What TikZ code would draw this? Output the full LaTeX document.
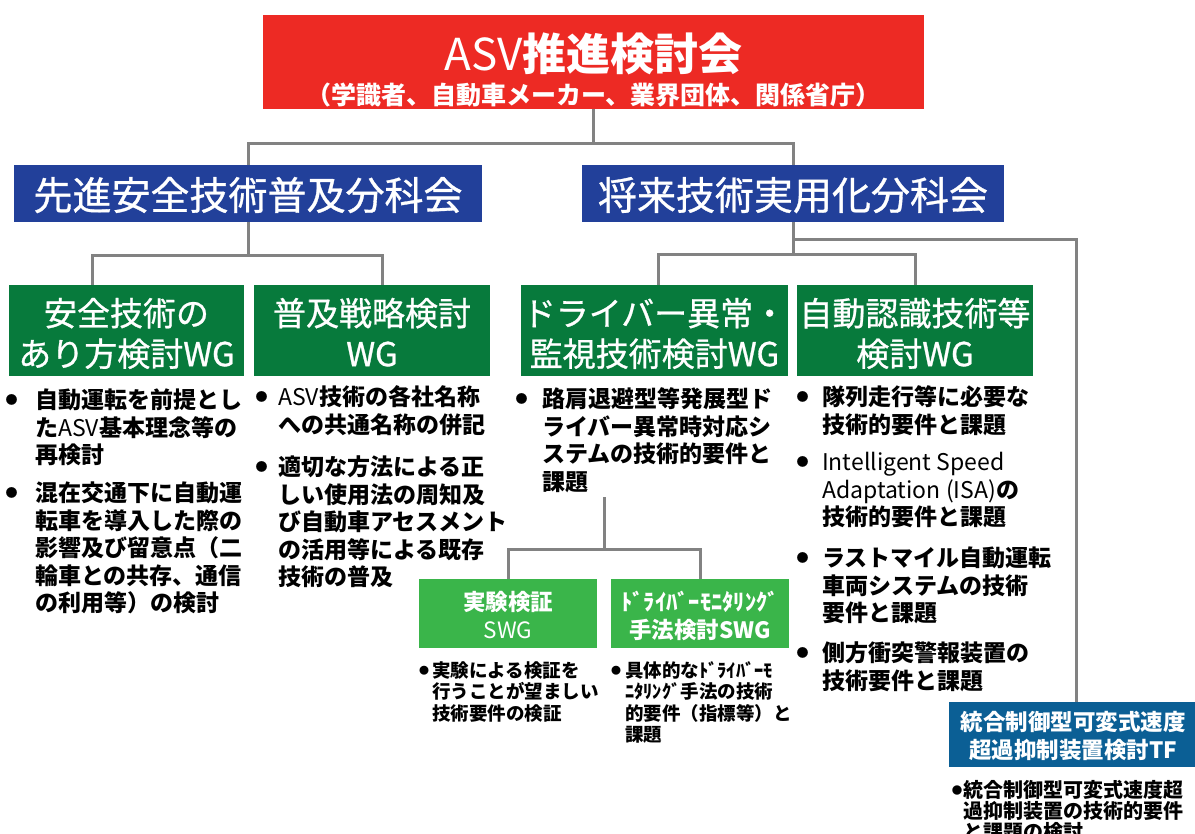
\documentclass[tikz,border=0pt]{standalone}
\usepackage{fontspec}
\setmainfont{Noto Sans CJK JP}
\newfontfamily\midjp[FakeBold=0.8]{Noto Sans CJK JP}
\definecolor{asvred}{HTML}{ED2A24}
\definecolor{secblue}{HTML}{22409A}
\definecolor{wggreen}{HTML}{077A3C}
\definecolor{swggreen}{HTML}{3AB54A}
\definecolor{tfblue}{HTML}{0B5F95}
\definecolor{conngray}{HTML}{828282}
\newcommand{\fsz}[2]{\fontsize{#1}{#2}\selectfont}
\newcommand{\tstrut}[1]{\rule{0pt}{#1pt}}
\newcommand{\bstrut}[1]{\rule[-#1pt]{0pt}{0pt}}
\newcommand{\bulmark}[3]{\makebox[#1pt][l]{\raisebox{#3pt}{\fsz{#2}{#2}●}}}
\newcommand{\ind}[1]{\hspace*{#1pt}}
\tikzset{
  boxbase/.style={inner sep=0pt, text=white, align=center},
  redbox/.style={boxbase, fill=asvred, font=\fsz{44}{34.3}\bfseries},
  secbox/.style={boxbase, fill=secblue, font=\midjp\fsz{39}{39}, minimum height=57pt},
  wgbox/.style={boxbase, fill=wggreen, font=\midjp\fsz{33}{40.5}, minimum height=91pt},
  swgbox/.style={boxbase, fill=swggreen, font=\fsz{22.5}{28}\bfseries, minimum height=69pt, minimum width=178pt},
  tfbox/.style={boxbase, fill=tfblue, font=\fsz{22.5}{28}\bfseries, minimum height=65pt},
  conn/.style={draw=conngray, line width=3pt},
  wgtext/.style={inner sep=0pt, anchor=north west, align=left, font=\fsz{23}{27.5}\bfseries},
  swgtext/.style={inner sep=0pt, anchor=north west, align=left, font=\fsz{18.5}{21.5}\bfseries},
  tftext/.style={inner sep=0pt, anchor=north west, align=left, font=\fsz{20}{21}\bfseries},
}
\begin{document}
\begin{tikzpicture}[x=1pt,y=1pt]
\useasboundingbox (0,0) rectangle (1195,-834);
\clip (0,0) rectangle (1195,-834);
% ---- boxes
\node[redbox, minimum width=661pt, minimum height=94pt] (asv) at (593.5,-62)
  {\tstrut{53.7}{\mdseries ASV}推進検討会\\{\fsz{25}{25}（学識者、自動車メーカー、業界団体、関係省庁）}\bstrut{3}};
\node[secbox, minimum width=468pt] (b1) at (248,-193.5) {\tstrut{37.6}先進安全技術普及分科会\bstrut{5}};
\node[secbox, minimum width=422pt] (b2) at (793,-193.5) {\tstrut{37.6}将来技術実用化分科会\bstrut{5}};
\node[wgbox, minimum width=235pt] (g1) at (126.5,-330.5) {\tstrut{35.9}安全技術の\\あり方検討WG\bstrut{5}};
\node[wgbox, minimum width=236pt] (g2) at (372,-330.5) {\tstrut{35.9}普及戦略検討\\WG\bstrut{5}};
\node[wgbox, minimum width=267pt] (g3) at (654.5,-330.5) {\tstrut{35.9}ドライバー異常・\\監視技術検討WG\bstrut{5}};
\node[wgbox, minimum width=236pt] (g4) at (915,-330.5) {\tstrut{35.9}自動認識技術等\\検討WG\bstrut{5}};
\node[swgbox] (s1) at (508,-613.5) {\tstrut{26.2}実験検証\\{\mdseries SWG}\bstrut{4}};
\node[swgbox] (s2) at (700,-613.5) {\tstrut{26.2}ﾄﾞﾗｲﾊﾞｰﾓﾆﾀﾘﾝｸﾞ\\手法検討SWG\bstrut{4}};
\node[tfbox, minimum width=248pt] (tf) at (1073,-734.5) {\tstrut{24.2}統合制御型可変式速度\\超過抑制装置検討TF\bstrut{4}};
% ---- connectors
\coordinate (j1) at (593.5,-144);
\draw[conn] (asv.south) -- (j1);
\draw[conn] (b1.north) |- (j1) -| (b2.north);
\coordinate (j2) at (248,-256);
\draw[conn] (b1.south) -- (j2);
\draw[conn] ([xshift=-34.5pt]g1.north) |- (j2) -| ([xshift=10pt]g2.north);
\coordinate (j3) at (793,-255);
\coordinate (j4) at (793,-240);
\draw[conn] (b2.south) -- (j3);
\draw[conn] ([xshift=3.5pt]g3.north) |- (j3) -| (g4.north);
\draw[conn] (j4) -| ([xshift=3pt]tf.north);
\coordinate (s0) at (604,-497);
\coordinate (j5) at (604,-549);
\draw[conn] (s0) -- (j5);
\draw[conn] (s1.north) |- (j5) -| (s2.north);
% ---- texts under WG 1
\node[wgtext] (t1a) at (5.5,-385.7) {\bulmark{29.5}{12}{4.2}\tstrut{23}自動運転を前提とし\\\ind{29.5}た{\mdseries ASV}基本理念等の\\\ind{29.5}再検討};
\node[wgtext] (t1b) at (5.5,-478.7) {\bulmark{29.5}{12}{4.2}\tstrut{23}混在交通下に自動運\\\ind{29.5}転車を導入した際の\\\ind{29.5}影響及び留意点（二\\\ind{29.5}輪車との共存、通信\\\ind{29.5}の利用等）の検討};
% ---- texts under WG 2
\node[wgtext] (t2a) at (255.5,-382.7) {\bulmark{22.5}{12}{4.2}\tstrut{23}{\mdseries ASV}技術の各社名称\\\ind{22.5}への共通名称の併記};
\node[wgtext] (t2b) at (255.5,-452.7) {\bulmark{22.5}{12}{4.2}\tstrut{23}適切な方法による正\\\ind{22.5}しい使用法の周知及\\\ind{22.5}び自動車アセスメント\\\ind{22.5}の活用等による既存\\\ind{22.5}技術の普及};
% ---- texts under WG 3
\node[wgtext] (t3a) at (515.5,-384.7) {\bulmark{26.5}{12}{4.2}\tstrut{23}路肩退避型等発展型ド\\\ind{26.5}ライバー異常時対応シ\\\ind{26.5}ステムの技術的要件と\\\ind{26.5}課題};
% ---- texts under WG 4
\node[wgtext] (t4a) at (796.5,-382.7) {\bulmark{25.5}{12}{4.2}\tstrut{23}隊列走行等に必要な\\\ind{25.5}技術的要件と課題};
\node[wgtext] (t4b) at (796.5,-447.7) {\bulmark{25.5}{12}{4.2}\tstrut{23}{\mdseries Intelligent Speed}\\\ind{25.5}{\mdseries Adaptation (ISA)}の\\\ind{25.5}技術的要件と課題};
\node[wgtext] (t4c) at (796.5,-543.7) {\bulmark{25.5}{12}{4.2}\tstrut{23}ラストマイル自動運転\\\ind{25.5}車両システムの技術\\\ind{25.5}要件と課題};
\node[wgtext] (t4d) at (796.5,-638.7) {\bulmark{25.5}{12}{4.2}\tstrut{23}側方衝突警報装置の\\\ind{25.5}技術要件と課題};
% ---- texts under SWGs and TF
\node[swgtext] (t5) at (418.8,-658.5) {\bulmark{13.2}{10}{3.2}\tstrut{18.5}実験による検証を\\\ind{13.2}行うことが望ましい\\\ind{13.2}技術要件の検証};
\node[swgtext] (t6) at (610.8,-658.5) {\bulmark{14.2}{10}{3.2}\tstrut{18.5}具体的なﾄﾞﾗｲﾊﾞｰﾓ\\\ind{14.2}ﾆﾀﾘﾝｸﾞ手法の技術\\\ind{14.2}的要件（指標等）と\\\ind{14.2}課題};
\node[tftext] (t7) at (951.7,-777.6) {\bulmark{11.3}{10.5}{3.6}\tstrut{20}統合制御型可変式速度超\\\ind{11.3}過抑制装置の技術的要件\\\ind{11.3}と課題の検討};
\end{tikzpicture}
\end{document}
